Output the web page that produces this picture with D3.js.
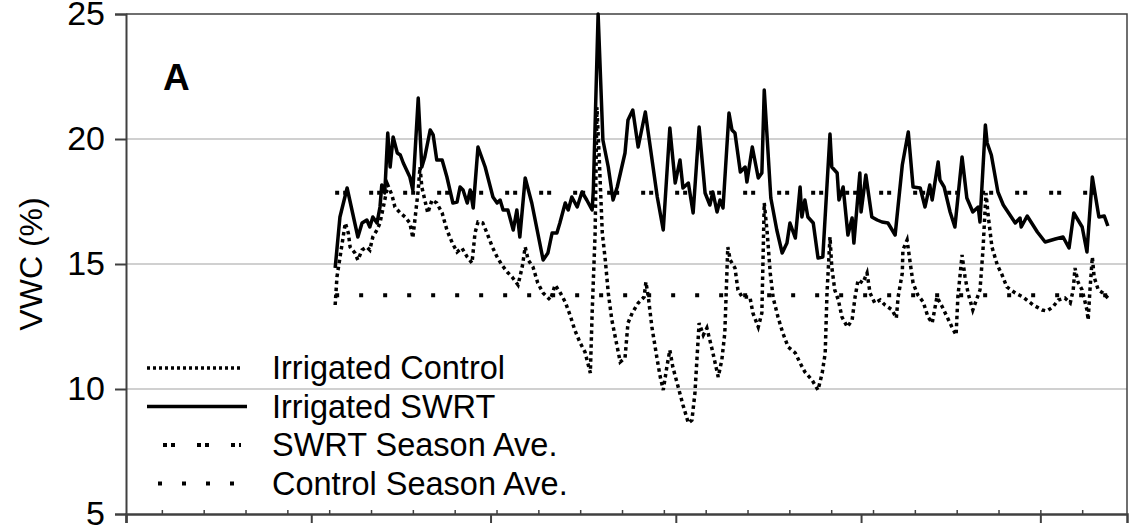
<!DOCTYPE html>
<html>
<head>
<meta charset="utf-8">
<script src="https://cdn.jsdelivr.net/npm/d3@7/dist/d3.min.js"></script>
<style>
  body { margin: 0; background: #fff; }
  svg { display: block; font-family: "Liberation Sans", Arial, sans-serif; }
</style>
</head>
<body>
<svg id="chart" width="1129" height="529"></svg>
<script>
// days since May 1, VWC (%)
const swrtDays = [35.0, 35.8, 37.0, 38.8, 39.5, 40.3, 40.8, 41.3, 42.0, 42.5, 42.8, 43.3, 43.8, 44.2, 44.7, 45.4, 45.9, 46.4, 47.5, 48.0, 48.9, 49.5, 50.0, 50.9, 51.4, 52.0, 52.9, 53.7, 54.7, 55.4, 55.9, 56.4, 57.1, 57.6, 58.1, 58.9, 60.1, 61.4, 62.1, 62.6, 63.1, 63.9, 64.8, 65.4, 65.9, 66.8, 67.9, 69.8, 70.6, 71.3, 72.1, 72.6, 73.5, 74.0, 74.6, 75.5, 76.3, 77.1, 78.0, 78.2, 79.0, 79.8, 80.7, 81.5, 82.2, 83.5, 84.0, 84.8, 85.7, 86.9, 88.9, 89.9, 91.0, 91.9, 92.7, 93.2, 94.1, 94.9, 95.9, 96.9, 97.7, 98.2, 98.9, 99.4, 99.9, 100.9, 101.4, 101.9, 102.8, 103.6, 103.9, 104.8, 105.8, 106.4, 106.8, 107.9, 108.9, 109.8, 110.6, 111.1, 112.0, 112.8, 113.1, 113.6, 114.1, 115.0, 115.8, 116.6, 117.8, 118.1, 119.0, 119.3, 120.0, 120.8, 121.5, 121.8, 122.8, 123.0, 123.8, 124.8, 125.7, 126.5, 127.5, 128.7, 129.9, 130.9, 131.7, 132.9, 133.7, 134.5, 134.9, 135.9, 136.2, 136.9, 137.9, 138.7, 139.9, 140.7, 141.7, 142.6, 142.9, 143.8, 144.1, 144.8, 145.9, 146.8, 148.8, 149.6, 149.8, 150.8, 152.5, 153.8, 155.5, 156.8, 157.8, 158.6, 160.0, 160.8, 161.7, 162.8, 163.7, 164.3];
const swrtVWC = [14.84, 16.88, 18.04, 16.08, 16.64, 16.76, 16.48, 16.88, 16.64, 17.28, 18.16, 17.84, 20.24, 18.88, 20.08, 19.44, 19.36, 19.04, 18.48, 17.96, 21.64, 18.88, 19.28, 20.36, 20.16, 19.16, 19.16, 18.48, 17.44, 17.48, 18.08, 17.96, 17.44, 17.96, 17.24, 19.68, 18.88, 17.68, 17.44, 17.56, 17.16, 17.16, 16.36, 17.16, 16.08, 18.44, 17.44, 15.16, 15.44, 16.24, 16.24, 16.64, 17.44, 17.16, 17.68, 17.28, 17.88, 17.56, 17.16, 17.96, 25.0, 19.96, 18.88, 17.56, 18.08, 19.44, 20.76, 21.16, 19.68, 21.08, 17.68, 16.36, 20.44, 18.24, 19.16, 18.04, 18.24, 17.04, 20.48, 17.84, 17.36, 17.88, 17.08, 17.56, 17.24, 21.04, 20.36, 20.24, 18.68, 18.88, 18.28, 19.68, 18.44, 18.64, 21.96, 17.64, 16.36, 15.44, 15.84, 16.64, 16.04, 18.08, 16.88, 17.56, 16.88, 16.64, 15.24, 15.28, 20.2, 18.88, 18.64, 17.56, 18.08, 16.16, 16.84, 15.84, 18.64, 17.08, 18.56, 16.88, 16.76, 16.68, 16.64, 16.16, 18.96, 20.28, 18.08, 18.04, 17.28, 18.16, 17.56, 19.08, 18.36, 18.08, 17.08, 16.48, 19.28, 17.64, 17.08, 17.28, 16.68, 20.56, 19.84, 19.36, 17.88, 17.36, 16.64, 16.84, 16.48, 16.92, 16.28, 15.88, 16.0, 16.08, 15.64, 17.04, 16.48, 15.48, 18.48, 16.88, 16.92, 16.52];

const ctrlDays = [35.0, 35.3, 36.7, 37.2, 37.5, 38.3, 38.8, 39.5, 40.3, 40.8, 41.3, 42.0, 42.5, 43.3, 43.8, 44.5, 45.0, 45.9, 46.7, 47.5, 48.0, 48.9, 49.2, 49.5, 50.0, 50.5, 51.2, 52.0, 52.9, 53.7, 54.6, 55.4, 56.2, 57.1, 57.9, 58.4, 58.9, 59.7, 60.4, 61.3, 62.1, 62.9, 63.8, 64.6, 65.6, 66.3, 66.8, 67.3, 68.1, 68.9, 69.8, 71.0, 71.8, 72.6, 73.5, 74.3, 75.1, 76.0, 76.8, 77.7, 78.0, 78.5, 78.8, 79.2, 79.7, 80.2, 80.7, 81.3, 82.2, 82.7, 83.5, 84.0, 84.7, 85.7, 86.7, 87.0, 87.4, 88.0, 88.9, 89.4, 89.9, 90.5, 91.0, 91.5, 92.4, 93.2, 94.1, 94.7, 95.2, 95.9, 96.6, 97.2, 98.1, 99.1, 99.7, 100.2, 100.7, 101.1, 101.9, 102.4, 103.1, 104.4, 104.9, 105.8, 106.4, 106.8, 107.3, 107.8, 108.3, 109.1, 109.9, 110.8, 112.0, 112.8, 113.6, 114.8, 115.8, 116.5, 117.0, 117.3, 117.8, 118.1, 118.6, 119.2, 119.8, 120.7, 121.5, 122.0, 122.5, 123.3, 124.0, 124.5, 125.3, 126.2, 127.0, 128.2, 128.9, 129.2, 129.9, 130.0, 130.7, 131.2, 131.7, 132.5, 133.4, 134.2, 134.9, 135.7, 136.6, 137.4, 138.2, 138.9, 139.2, 139.9, 140.4, 140.9, 141.7, 142.9, 143.4, 143.9, 144.3, 144.9, 145.8, 146.6, 147.4, 148.8, 150.1, 151.8, 153.3, 154.1, 155.1, 156.0, 157.1, 158.0, 158.5, 158.8, 159.3, 160.0, 160.8, 161.0, 161.3, 161.7, 162.0, 162.7, 163.5, 164.3];
const ctrlVWC = [13.36, 14.48, 16.64, 16.24, 15.68, 15.44, 15.16, 15.56, 15.68, 15.56, 16.08, 16.36, 16.64, 17.56, 18.16, 17.76, 17.28, 17.04, 16.88, 16.64, 16.04, 17.96, 18.88, 18.08, 17.56, 17.04, 17.56, 17.44, 17.04, 16.36, 15.84, 15.48, 15.64, 15.28, 15.04, 16.24, 16.68, 16.64, 16.24, 15.68, 15.28, 14.96, 14.68, 14.48, 14.16, 14.88, 15.68, 15.16, 14.88, 14.24, 13.84, 13.56, 14.16, 13.88, 13.48, 12.96, 12.36, 11.84, 11.48, 10.64, 13.04, 16.24, 21.28, 19.16, 16.24, 15.16, 13.84, 12.76, 11.68, 11.08, 11.24, 12.64, 13.04, 13.44, 13.68, 14.28, 13.68, 12.48, 11.16, 10.48, 9.96, 10.88, 11.56, 10.88, 10.08, 9.36, 8.64, 8.76, 9.84, 12.64, 12.16, 12.44, 11.56, 10.48, 11.16, 12.24, 15.68, 15.16, 14.84, 13.96, 13.68, 13.68, 13.04, 12.48, 13.04, 17.44, 16.24, 14.64, 13.64, 12.88, 12.24, 11.68, 11.44, 11.04, 10.68, 10.36, 9.96, 10.64, 11.44, 13.84, 16.08, 14.88, 13.96, 13.56, 12.88, 12.48, 12.76, 13.68, 14.36, 14.24, 14.64, 13.84, 13.44, 13.56, 13.36, 13.16, 12.84, 13.68, 14.64, 15.56, 15.96, 15.08, 14.24, 13.76, 13.48, 12.88, 12.64, 13.68, 13.28, 12.88, 12.48, 12.16, 13.68, 15.36, 14.48, 13.84, 13.16, 13.96, 15.56, 17.84, 16.88, 15.68, 14.96, 14.56, 14.08, 13.84, 13.68, 13.36, 13.16, 13.12, 13.28, 13.56, 13.64, 13.44, 13.96, 14.84, 14.28, 13.96, 13.16, 12.76, 13.96, 15.28, 14.48, 13.96, 13.84, 13.64];

const seasonSpan = [35, 164.3];
const swrtSeasonAve = 17.85;
const ctrlSeasonAve = 13.75;

const yTicks = [5, 10, 15, 20, 25];
const gridValues = [10, 15, 20];
const monthStarts = [0, 31, 61, 92, 123, 153];
const weekTicks = d3.range(6, 167, 7);

const legendItems = [
    {label: "Irrigated Control", dash: "3,3", width: 3.5, x0: 147, x1: 240},
    {label: "Irrigated SWRT", dash: null, width: 3.5, x0: 147, x1: 247},
    {label: "SWRT Season Ave.", dash: "4,4,4,22", width: 4, x0: 163, x1: 241},
    {label: "Control Season Ave.", dash: "4,20", width: 4, x0: 158, x1: 234}
];

const svg = d3.select("#chart");
const x = d3.scaleLinear().domain([0, 167.5]).range([126, 1127]);
const y = d3.scaleLinear().domain([5, 25]).range([514, 14]);

// gridlines
svg.append("g")
    .selectAll("line")
    .data(gridValues)
    .enter()
    .append("line")
    .attr("x1", x.range()[0])
    .attr("x2", x.range()[1])
    .attr("y1", d => y(d))
    .attr("y2", d => y(d))
    .attr("stroke", "#c0c0c0")
    .attr("stroke-width", 1.5);

// plot frame (top and right)
svg.append("path")
    .attr("d", `M${x.range()[0]},${y(25)}H${x.range()[1]}V${y(5)}`)
    .attr("fill", "none")
    .attr("stroke", "#404040")
    .attr("stroke-width", 1.5);

// y axis
const yAxis = svg.append("g")
    .attr("transform", `translate(${x.range()[0]},0)`)
    .call(d3.axisLeft(y).tickValues(yTicks).tickSize(11).tickPadding(10).tickFormat(d3.format("d")));
yAxis.select(".domain").attr("stroke", "#404040").attr("stroke-width", 2);
yAxis.selectAll(".tick line").attr("stroke", "#404040").attr("stroke-width", 2);
yAxis.selectAll("text")
    .attr("font-size", 34)
    .attr("font-family", "Liberation Sans, Arial, sans-serif")
    .attr("fill", "#000");

// x axis: month ticks below, weekly minor ticks above
const xAxis = svg.append("g")
    .attr("transform", `translate(0,${y(5)})`)
    .call(d3.axisBottom(x).tickValues(monthStarts).tickSize(9).tickFormat(""));
xAxis.select(".domain").attr("stroke", "#404040").attr("stroke-width", 2.5);
xAxis.selectAll(".tick line").attr("stroke", "#404040").attr("stroke-width", 2);

const xMinor = svg.append("g")
    .attr("transform", `translate(0,${y(5)})`)
    .call(d3.axisBottom(x).tickValues(weekTicks).tickSizeInner(-4).tickSizeOuter(0).tickFormat(""));
xMinor.select(".domain").remove();
xMinor.selectAll(".tick line").attr("stroke", "#404040").attr("stroke-width", 1.5);

// series
const line = d3.line().x(d => x(d[0])).y(d => y(d[1]));

svg.append("path")
    .datum(d3.zip(ctrlDays, ctrlVWC))
    .attr("d", line)
    .attr("fill", "none")
    .attr("stroke", "#000")
    .attr("stroke-width", 3.5)
    .attr("stroke-dasharray", "3.5,3.5");

svg.append("path")
    .datum(d3.zip(swrtDays, swrtVWC))
    .attr("d", line)
    .attr("fill", "none")
    .attr("stroke", "#000")
    .attr("stroke-width", 3.5)
    .attr("stroke-linejoin", "round");

svg.append("path")
    .datum(seasonSpan.map(d => [d, swrtSeasonAve]))
    .attr("d", line)
    .attr("fill", "none")
    .attr("stroke", "#000")
    .attr("stroke-width", 4)
    .attr("stroke-dasharray", "4,4,4,22");

svg.append("path")
    .datum(seasonSpan.map(d => [d, ctrlSeasonAve]))
    .attr("d", line)
    .attr("fill", "none")
    .attr("stroke", "#000")
    .attr("stroke-width", 4)
    .attr("stroke-dasharray", "4,20");

// legend
const legend = svg.append("g");
legendItems.forEach((item, i) => {
    const ly = 368 + i * 38.5;
    legend.append("line")
        .attr("x1", item.x0).attr("x2", item.x1)
        .attr("y1", ly).attr("y2", ly)
        .attr("stroke", "#000")
        .attr("stroke-width", item.width)
        .attr("stroke-dasharray", item.dash);
    legend.append("text")
        .attr("x", 272)
        .attr("y", ly + 11)
        .attr("font-size", 32.5)
        .text(item.label);
});

// panel letter
svg.append("text")
    .attr("x", 163)
    .attr("y", 90)
    .attr("font-size", 37)
    .attr("font-weight", "bold")
    .text("A");

// y axis title
svg.append("text")
    .attr("transform", `translate(42,${y(15)}) rotate(-90)`)
    .attr("text-anchor", "middle")
    .attr("font-size", 32)
    .text("VWC (%)");
</script>
</body>
</html>
